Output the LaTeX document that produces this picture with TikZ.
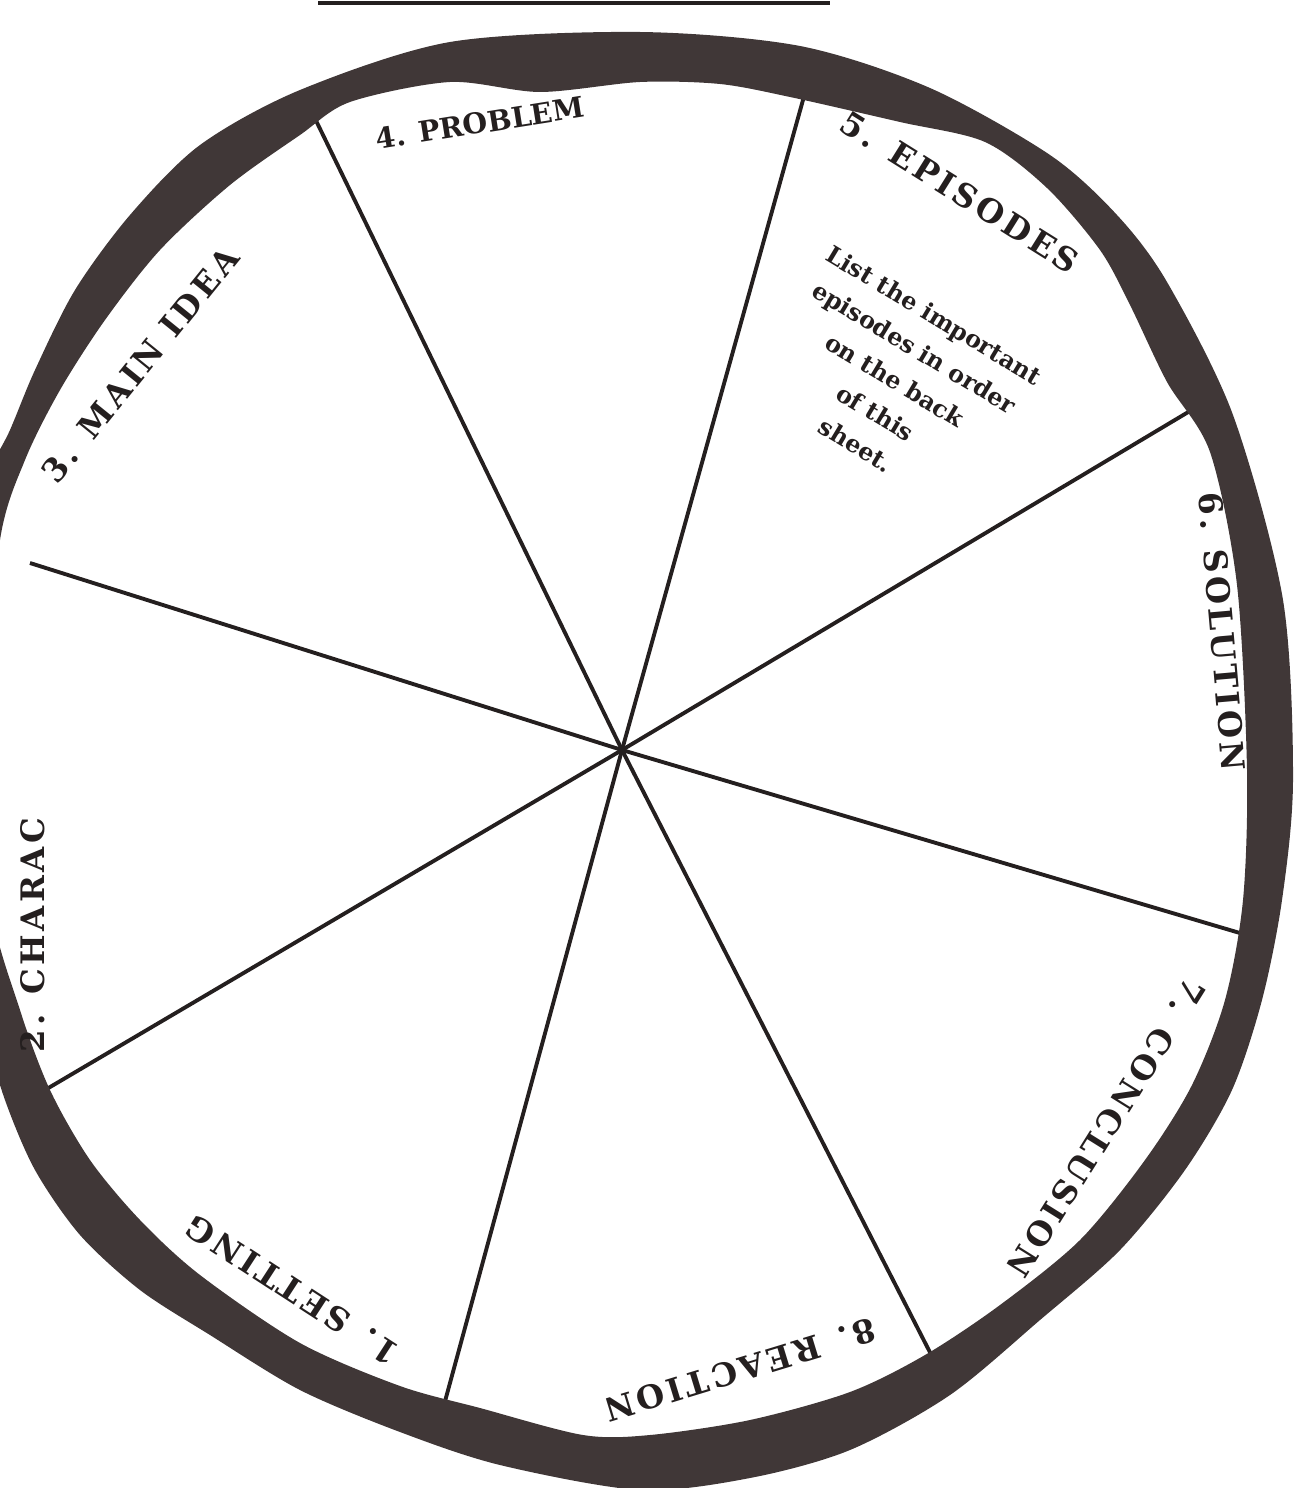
\documentclass[tikz,border=0pt]{standalone}
\usepackage{fontspec}
\setmainfont{DejaVu Serif}
\newfontfamily\spacedfont{DejaVu Serif}[LetterSpace=11]
\definecolor{rimgray}{HTML}{403737}
\definecolor{inkgray}{HTML}{241F1F}
\tikzset{
  sector/.style={font=\spacedfont\bfseries\fontsize{9.2}{11}\selectfont,text=inkgray,inner sep=1pt},
  tight/.style={font=\bfseries\fontsize{8.1}{10}\selectfont,text=inkgray,inner sep=1pt},
  note/.style={font=\bfseries\fontsize{6.8}{10.8}\selectfont,text=inkgray,align=center,inner sep=1pt},
  spoke/.style={draw=inkgray,line width=1.1pt},
  rim/.style={fill=rimgray,even odd rule}
}
\begin{document}
\begin{tikzpicture}[x=0.01cm,y=-0.01cm]
  \useasboundingbox (0,0) rectangle (1295,1488);
  \clip (0,0) rectangle (1295,1488);

  \coordinate (hub) at (622,750);
  \coordinate (endproblem) at (306,100);
  \coordinate (endepisodes) at (808,82);
  \coordinate (endsolution) at (1195,408);
  \coordinate (endconclusion) at (1250,936);
  \coordinate (endreaction) at (938,1368);
  \coordinate (endsetting) at (444,1405);
  \coordinate (endcharacters) at (45,1090);
  \coordinate (endmainidea) at (30,563);

  \draw[spoke] (hub) -- (endproblem);
  \draw[spoke] (hub) -- (endepisodes);
  \draw[spoke] (hub) -- (endsolution);
  \draw[spoke] (hub) -- (endconclusion);
  \draw[spoke] (hub) -- (endreaction);
  \draw[spoke] (hub) -- (endsetting);
  \draw[spoke] (hub) -- (endcharacters);
  \draw[spoke] (hub) -- (endmainidea);

  \fill[rim] plot[smooth cycle] coordinates {
    (640,32) (800,46) (930,88) (1050,155) (1117,215) (1167,282) (1233,415)
    (1283,600) (1293,780) (1282,900) (1262,1000) (1232,1090) (1185,1170)
    (1120,1250) (1040,1320) (950,1395) (850,1450) (750,1478) (640,1490)
    (500,1465) (400,1432) (300,1390) (210,1335) (140,1290) (80,1235)
    (35,1170) (5,1100) (-15,1030) (-45,900) (-55,720) (-30,520) (10,430)
    (35,370) (75,290) (130,215) (200,145) (300,90) (450,42)}
    plot[smooth cycle] coordinates {
    (640,82) (720,84) (790,97) (900,122) (985,142) (1047,188) (1100,250)
    (1130,305) (1167,382) (1210,452) (1237,585) (1247,770) (1243,900)
    (1225,1000) (1192,1085) (1145,1160) (1080,1240) (1000,1305) (925,1355)
    (850,1392) (750,1420) (650,1435) (583,1435) (480,1408) (400,1386)
    (300,1343) (200,1275) (140,1220) (90,1160) (50,1090) (20,1010)
    (-10,900) (-15,720) (0,540) (25,460) (60,390) (105,320) (160,250)
    (230,185) (300,135) (350,102) (450,82) (540,92)};

  \draw[inkgray,line width=1.1pt] (318,3) -- (830,3);

  \node[tight,rotate=9] (problem) at (480,123) {4. PROBLEM};
  \node[sector,rotate=-32] (episodes) at (960,192) {5. EPISODES};
  \node[note,rotate=-31] (hint) at (895,380) {List the important\\episodes in order\\on the back\\of this\\sheet.};
  \node[sector,rotate=51] (mainidea) at (140,365) {3. MAIN IDEA};
  \node[sector,rotate=-85] (solution) at (1222,632) {6. SOLUTION};
  \node[sector,rotate=-122] (conclusion) at (1106,1128) {7. CONCLUSION};
  \node[sector,rotate=197] (reaction) at (740,1370) {8. REACTION};
  \node[sector,rotate=147] (setting) at (292,1290) {1. SETTING};
  \node[sector,rotate=90] (characters) at (33,935) {2. CHARAC};
\end{tikzpicture}
\end{document}
